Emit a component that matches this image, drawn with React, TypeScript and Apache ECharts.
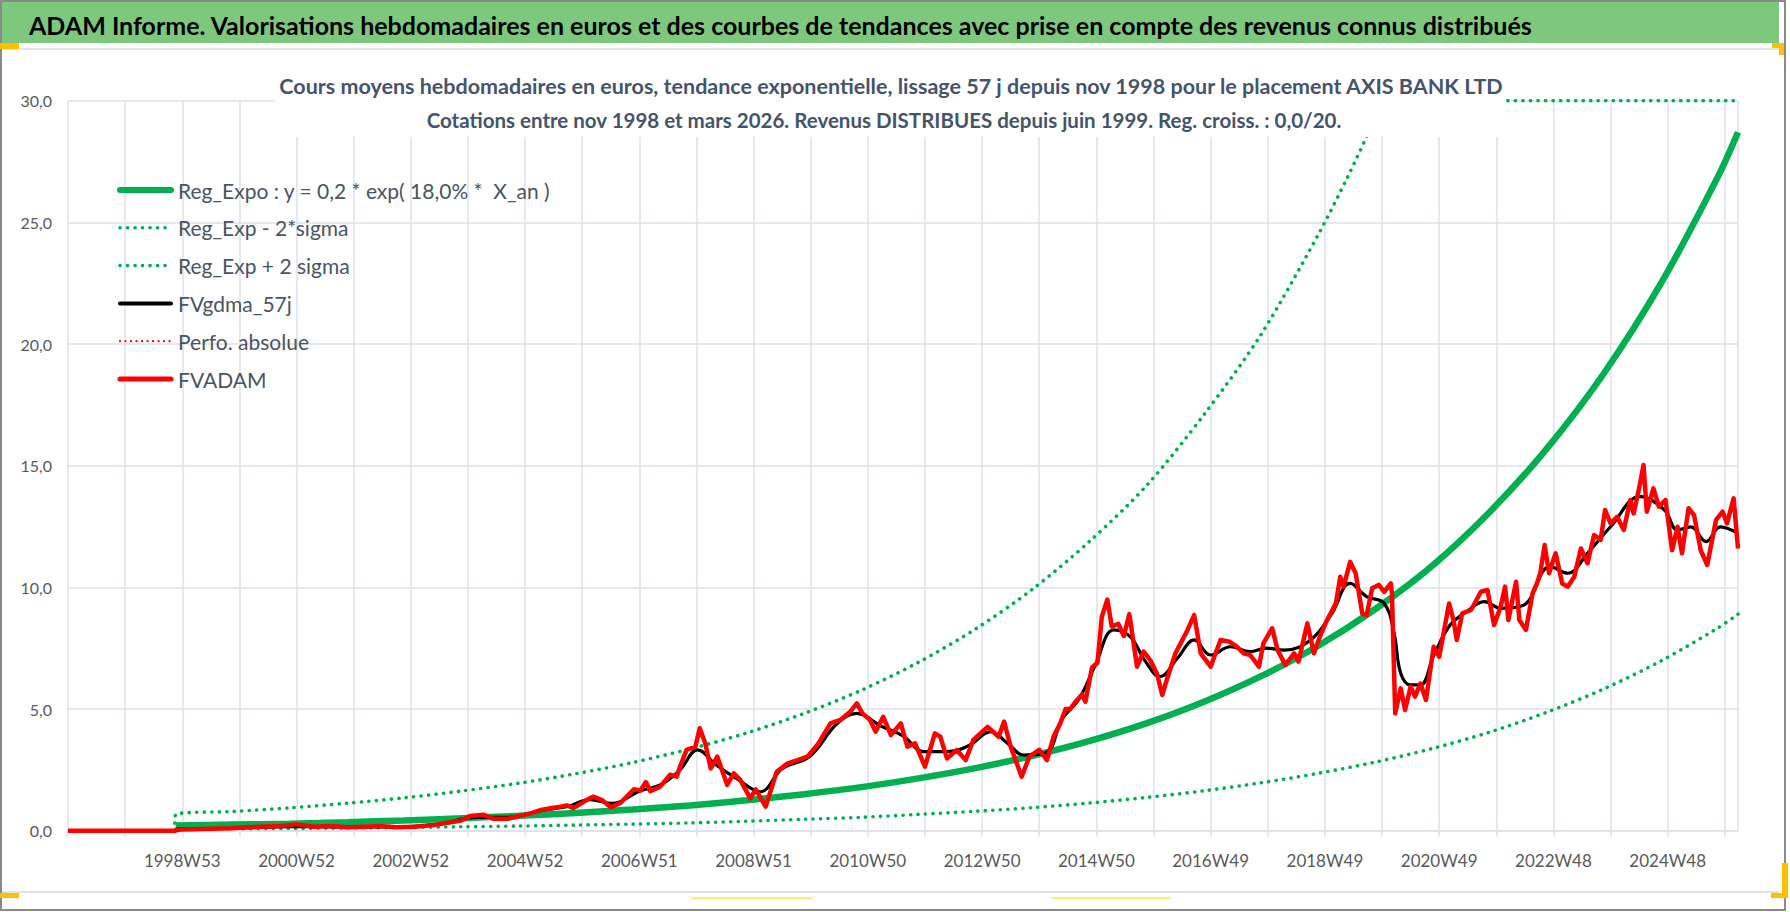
import React, { useEffect, useRef } from "react";
import * as echarts from "echarts";

const FONT = "Lato, 'Open Sans', sans-serif";

// x axis: weekly index, 0 = 1997W01 ; 1520 = last week (fév/mars 2026)
const WEEK_MAX = 1520;
const LABEL_FIRST_WEEK = 104;
const LABEL_STEP = 104;
const tickLabels = [
  "1998W53", "2000W52", "2002W52", "2004W52", "2006W51", "2008W51", "2010W50",
  "2012W50", "2014W50", "2016W49", "2018W49", "2020W49", "2022W48", "2024W48",
];

// Regression curves (yearly)
const regWeeks = [98, 150, 202, 254, 306, 358, 410, 462, 514, 566, 618, 670, 722, 774, 826, 878, 930, 982, 1034, 1086, 1138, 1190, 1242, 1294, 1346, 1398, 1450, 1502, 1520];
const regExpo = [0.21, 0.25, 0.29, 0.35, 0.42, 0.51, 0.61, 0.73, 0.87, 1.04, 1.25, 1.5, 1.79, 2.15, 2.57, 3.08, 3.69, 4.42, 5.3, 6.35, 7.6, 9.11, 10.9, 13.1, 15.7, 18.8, 22.5, 26.9, 28.7];
const regLow = [0.06, 0.08, 0.09, 0.11, 0.13, 0.16, 0.19, 0.23, 0.27, 0.32, 0.39, 0.47, 0.55, 0.67, 0.8, 0.95, 1.14, 1.37, 1.64, 1.97, 2.36, 2.82, 3.38, 4.05, 4.87, 5.83, 6.98, 8.34, 8.9];
const upperWeeks = [97, 98, 150, 202, 254, 306, 358, 410, 462, 514, 566, 618, 670, 722, 774, 826, 878, 930, 982, 1034, 1086, 1138, 1164, 1190, 1197, 1520];
const regHigh = [0, 0.66, 0.79, 0.94, 1.13, 1.35, 1.63, 1.95, 2.34, 2.8, 3.36, 4.02, 4.82, 5.77, 6.92, 8.29, 9.93, 11.9, 14.2, 17.1, 20.4, 24.5, 26.8, 29.3, 30, 30];

// FVgdma_57j (smoothed)
const smoothWeeks = [0, 97, 100, 150, 200, 250, 300, 340, 370, 400, 430, 455, 475, 495, 520, 540, 557, 573, 590, 610, 630, 650, 675, 700, 718, 740, 760, 779, 800, 820, 840, 855, 870, 890, 905, 920, 935, 952, 967, 980, 994, 1010, 1025, 1040, 1058, 1076, 1090, 1107, 1131, 1150, 1167, 1182, 1198, 1207, 1213, 1222, 1231, 1243, 1258, 1273, 1289, 1304, 1325, 1349, 1365, 1383, 1404, 1431, 1453, 1465, 1477, 1491, 1504, 1520];
const smoothValues = [0, 0, 0.08, 0.1, 0.17, 0.16, 0.16, 0.28, 0.55, 0.55, 0.82, 1.0, 1.28, 1.12, 1.62, 1.9, 2.5, 3.32, 2.7, 2.1, 1.6, 2.55, 3.05, 4.4, 4.82, 4.3, 3.9, 3.25, 3.25, 3.5, 4.07, 3.6, 3.11, 3.2, 4.6, 5.4, 6.8, 8.25, 7.97, 7.0, 6.33, 7.1, 7.84, 7.22, 7.56, 7.36, 7.5, 7.42, 7.84, 8.9, 10.16, 9.62, 9.34, 8.11, 6.47, 5.99, 5.99, 7.2, 8.45, 9.0, 9.41, 9.14, 9.27, 10.85, 10.58, 11.4, 12.49, 13.73, 13.18, 12.36, 12.49, 11.88, 12.49, 12.22];

// FVADAM (weekly valuation, key points)
const adamWeeks = [0, 97, 102, 148, 163, 193, 208, 224, 239, 254, 269, 284, 299, 315, 333, 345, 357, 366, 378, 387, 400, 406, 421, 430, 445, 454, 460, 472, 478, 486, 494, 503, 515, 521, 526, 530, 539, 548, 554, 557, 563, 571, 575, 580, 585, 591, 600, 606, 612, 621, 626, 635, 645, 655, 664, 673, 682, 694, 703, 712, 718, 723, 730, 735, 742, 749, 758, 764, 771, 780, 789, 794, 800, 809, 817, 824, 837, 847, 852, 858, 868, 875, 884, 891, 897, 903, 908, 912, 917, 923, 926, 932, 937, 941, 946, 950, 956, 961, 966, 973, 979, 985, 991, 996, 1000, 1008, 1019, 1025, 1031, 1040, 1049, 1057, 1064, 1070, 1076, 1084, 1088, 1096, 1101, 1108, 1116, 1120, 1128, 1134, 1140, 1146, 1154, 1158, 1161, 1167, 1172, 1178, 1182, 1187, 1193, 1198, 1204, 1205, 1208, 1213, 1217, 1222, 1226, 1231, 1236, 1243, 1248, 1252, 1257, 1261, 1264, 1269, 1277, 1286, 1292, 1298, 1304, 1308, 1311, 1318, 1321, 1327, 1333, 1337, 1340, 1344, 1348, 1354, 1360, 1365, 1371, 1377, 1383, 1389, 1395, 1399, 1404, 1410, 1416, 1422, 1425, 1430, 1434, 1437, 1443, 1448, 1454, 1460, 1465, 1469, 1475, 1480, 1486, 1492, 1500, 1506, 1510, 1516, 1520];
const adamValues = [0, 0, 0.05, 0.1, 0.14, 0.19, 0.26, 0.16, 0.19, 0.14, 0.16, 0.19, 0.14, 0.16, 0.23, 0.33, 0.41, 0.6, 0.66, 0.49, 0.49, 0.55, 0.71, 0.85, 0.96, 1.04, 0.93, 1.26, 1.4, 1.26, 0.96, 1.15, 1.7, 1.65, 2.0, 1.62, 1.81, 2.3, 2.22, 2.63, 3.32, 3.45, 4.21, 3.59, 2.56, 3.04, 1.88, 2.36, 2.08, 1.33, 1.7, 0.99, 2.42, 2.77, 2.9, 3.04, 3.52, 4.41, 4.55, 4.89, 5.23, 4.82, 4.55, 4.07, 4.68, 3.93, 4.41, 3.45, 3.59, 2.63, 4.0, 3.86, 2.97, 3.32, 2.9, 3.73, 4.27, 3.86, 4.48, 3.45, 2.22, 3.04, 3.32, 2.9, 3.86, 4.4, 5.0, 5.0, 5.3, 5.6, 5.3, 6.7, 6.9, 8.8, 9.5, 8.4, 8.5, 8.0, 8.9, 6.74, 7.36, 7.01, 6.47, 5.58, 6.19, 7.29, 8.25, 8.86, 7.29, 6.74, 7.84, 7.77, 7.56, 7.29, 7.22, 6.74, 7.7, 8.32, 7.42, 6.81, 7.29, 6.95, 8.52, 7.29, 8.04, 8.66, 9.34, 10.44, 10.03, 11.05, 10.58, 8.93, 8.86, 9.96, 10.1, 9.82, 10.16, 9.75, 4.82, 5.85, 4.96, 5.92, 5.51, 6.05, 5.37, 7.56, 7.15, 8.11, 9.34, 8.66, 7.84, 8.93, 9.07, 9.82, 9.89, 8.45, 9.21, 10.03, 8.66, 10.23, 8.66, 8.25, 9.75, 10.16, 10.58, 11.74, 10.58, 11.4, 10.16, 10.03, 10.44, 11.6, 10.99, 12.15, 11.95, 13.18, 12.63, 12.9, 12.36, 13.59, 13.04, 14.07, 15.03, 13.11, 14.07, 13.32, 13.59, 11.53, 12.49, 11.4, 13.25, 12.97, 11.53, 10.92, 12.77, 13.11, 12.63, 13.66, 11.6];

const pairs = (xs: number[], ys: number[]) => xs.map((x, i) => [x, ys[i]]);

const TITLE = "ADAM Informe. Valorisations hebdomadaires en euros et des courbes de tendances avec prise en compte des revenus connus distribués";
const SUB1 = "Cours moyens hebdomadaires en euros, tendance exponentielle, lissage 57 j depuis nov 1998 pour le placement AXIS BANK LTD";
const SUB2 = "Cotations entre nov 1998 et mars 2026. Revenus DISTRIBUES depuis juin 1999. Reg. croiss. : 0,0/20.";

const NAME_REG = "Reg_Expo : y = 0,2 * exp( 18,0% *  X_an )";
const NAME_LOW = "Reg_Exp - 2*sigma";
const NAME_HIGH = "Reg_Exp + 2 sigma";
const NAME_SMOOTH = "FVgdma_57j";
const NAME_PERF = "Perfo. absolue";
const NAME_ADAM = "FVADAM";

const GREEN = "#00b050";
const GRID = "#dde1e9";

export default function App() {
  const ref = useRef<HTMLDivElement>(null);
  useEffect(() => {
    if (!ref.current) return;
    const chart = echarts.init(ref.current, undefined, { renderer: "svg" });
    const dotted = (color: string, w: number, gap: number) => ({
      color, width: w, type: [0.1, gap], cap: "round" as const,
    });
    const greenDots = dotted(GREEN, 3.6, 7.4);
    const redDots = dotted("#ff0000", 2.2, 5.4);
    chart.setOption({
      animation: false,
      backgroundColor: "#ffffff",
      textStyle: { fontFamily: FONT },
      grid: { left: 68, right: 52, top: 100.7, bottom: 81.3, containLabel: false },
      xAxis: {
        type: "value",
        min: 0,
        max: WEEK_MAX,
        interval: 52,
        axisLine: { show: true, lineStyle: { color: GRID, width: 1.5 } },
        axisTick: { show: true, length: 6, lineStyle: { color: GRID, width: 1.5 } },
        splitLine: { show: true, lineStyle: { color: GRID, width: 1.5 } },
        axisLabel: {
          margin: 21,
          color: "#595959",
          fontSize: 17,
          fontFamily: FONT,
          showMaxLabel: false,
          formatter: (v: number) => {
            const i = (v - LABEL_FIRST_WEEK) / LABEL_STEP;
            return Number.isInteger(i) && i >= 0 && i < tickLabels.length ? tickLabels[i] : "";
          },
        },
      },
      yAxis: {
        type: "value",
        min: 0,
        max: 30,
        interval: 5,
        axisLine: { show: false },
        axisTick: { show: false },
        splitLine: { show: true, lineStyle: { color: GRID, width: 1.5 } },
        axisLabel: {
          margin: 16,
          color: "#595959",
          fontSize: 16,
          fontFamily: FONT,
          formatter: (v: number) => v.toFixed(1).replace(".", ","),
        },
      },
      legend: {
        orient: "vertical",
        left: 117,
        top: 178,
        padding: 0,
        itemWidth: 51,
        itemHeight: 14,
        itemGap: 13.8,
        itemStyle: { opacity: 0 },
        textStyle: { fontSize: 21, lineHeight: 24, color: "#4a5463", fontFamily: FONT, padding: [0, 0, 0, 2] },
        data: [
          { name: NAME_REG, lineStyle: { color: GREEN, width: 6, cap: "round" } },
          { name: NAME_LOW, lineStyle: greenDots },
          { name: NAME_HIGH, lineStyle: greenDots },
          { name: NAME_SMOOTH, lineStyle: { color: "#000000", width: 4, cap: "round" } },
          { name: NAME_PERF, lineStyle: redDots },
          { name: NAME_ADAM, lineStyle: { color: "#ff0000", width: 5, cap: "round" } },
        ],
      },
      series: [
        {
          name: NAME_REG,
          type: "line",
          data: pairs(regWeeks, regExpo),
          showSymbol: false, symbol: "none",
          smooth: 0.3,
          lineStyle: { color: GREEN, width: 6.5 },
          itemStyle: { color: GREEN },
          z: 2,
        },
        {
          name: NAME_LOW,
          type: "line",
          data: pairs(regWeeks, regLow),
          showSymbol: false, symbol: "none",
          smooth: 0.3,
          lineStyle: greenDots,
          itemStyle: { color: GREEN },
          z: 2,
        },
        {
          name: NAME_HIGH,
          type: "line",
          data: pairs(upperWeeks, regHigh),
          showSymbol: false, symbol: "none",
          smooth: 0.3,
          lineStyle: greenDots,
          itemStyle: { color: GREEN },
          z: 2,
        },
        {
          name: NAME_SMOOTH,
          type: "line",
          data: pairs(smoothWeeks, smoothValues),
          showSymbol: false, symbol: "none",
          smooth: 0.4,
          lineStyle: { color: "#000000", width: 3.2 },
          itemStyle: { color: "#000000" },
          z: 3,
        },
        {
          name: NAME_PERF,
          type: "line",
          data: [],
          showSymbol: false, symbol: "none",
          lineStyle: redDots,
          itemStyle: { color: "#ff0000" },
          z: 3,
        },
        {
          name: NAME_ADAM,
          type: "line",
          data: pairs(adamWeeks, adamValues),
          showSymbol: false, symbol: "none",
          lineStyle: { color: "#ff0000", width: 4.5, join: "round" },
          itemStyle: { color: "#ff0000" },
          z: 4,
        },
      ],
      graphic: [
        { type: "rect", z: 100, shape: { x: 275, y: 58, width: 1231, height: 79 }, style: { fill: "#ffffff" } },
        {
          type: "text", z: 101, x: 891, y: 86,
          style: { text: SUB1, font: `bold 21.5px ${FONT}`, fill: "#44546a", textAlign: "center", textVerticalAlign: "middle" },
        },
        {
          type: "text", z: 101, x: 884, y: 120,
          style: { text: SUB2, font: `bold 20.5px ${FONT}`, fill: "#44546a", textAlign: "center", textVerticalAlign: "middle" },
        },
        { type: "rect", z: 100, shape: { x: 2, y: 2, width: 1777, height: 41 }, style: { fill: "#7ec87e" } },
        {
          type: "text", z: 101, x: 29, y: 25,
          style: { text: TITLE, font: `bold 25px ${FONT}`, fill: "#000000", textAlign: "left", textVerticalAlign: "middle" },
        },
        { type: "line", z: 100, shape: { x1: 2, y1: 49, x2: 1779, y2: 49 }, style: { stroke: "#dfe3ea", lineWidth: 2 } },
        { type: "line", z: 100, shape: { x1: 2, y1: 892, x2: 1779, y2: 892 }, style: { stroke: "#dfe3ea", lineWidth: 2 } },
        { type: "rect", z: 100, shape: { x: 1, y: 1, width: 1784, height: 909 }, style: { fill: "none", stroke: "#8a8a8a", lineWidth: 2 } },
        { type: "rect", z: 102, shape: { x: 0, y: 43, width: 19, height: 6 }, style: { fill: "#ffc000" } },
        { type: "rect", z: 102, shape: { x: 1772, y: 43, width: 12, height: 5 }, style: { fill: "#ffc000" } },
        { type: "rect", z: 102, shape: { x: 1779, y: 43, width: 5, height: 12 }, style: { fill: "#ffc000" } },
        { type: "rect", z: 102, shape: { x: 0, y: 893, width: 19, height: 5 }, style: { fill: "#ffc000" } },
        { type: "rect", z: 102, shape: { x: 1782, y: 863, width: 6, height: 35 }, style: { fill: "#ffc000" } },
        { type: "rect", z: 102, shape: { x: 1771, y: 893, width: 17, height: 5 }, style: { fill: "#ffc000" } },
        { type: "rect", z: 102, shape: { x: 692, y: 897, width: 120, height: 2 }, style: { fill: "#f7f06a" } },
        { type: "rect", z: 102, shape: { x: 1051, y: 897, width: 120, height: 2 }, style: { fill: "#f7f06a" } },
      ],
    });
    return () => chart.dispose();
  }, []);
  return (
    <div
      ref={ref}
      style={{ position: "fixed", left: 0, top: 0, width: 1790, height: 912, background: "#ffffff" }}
    />
  );
}
